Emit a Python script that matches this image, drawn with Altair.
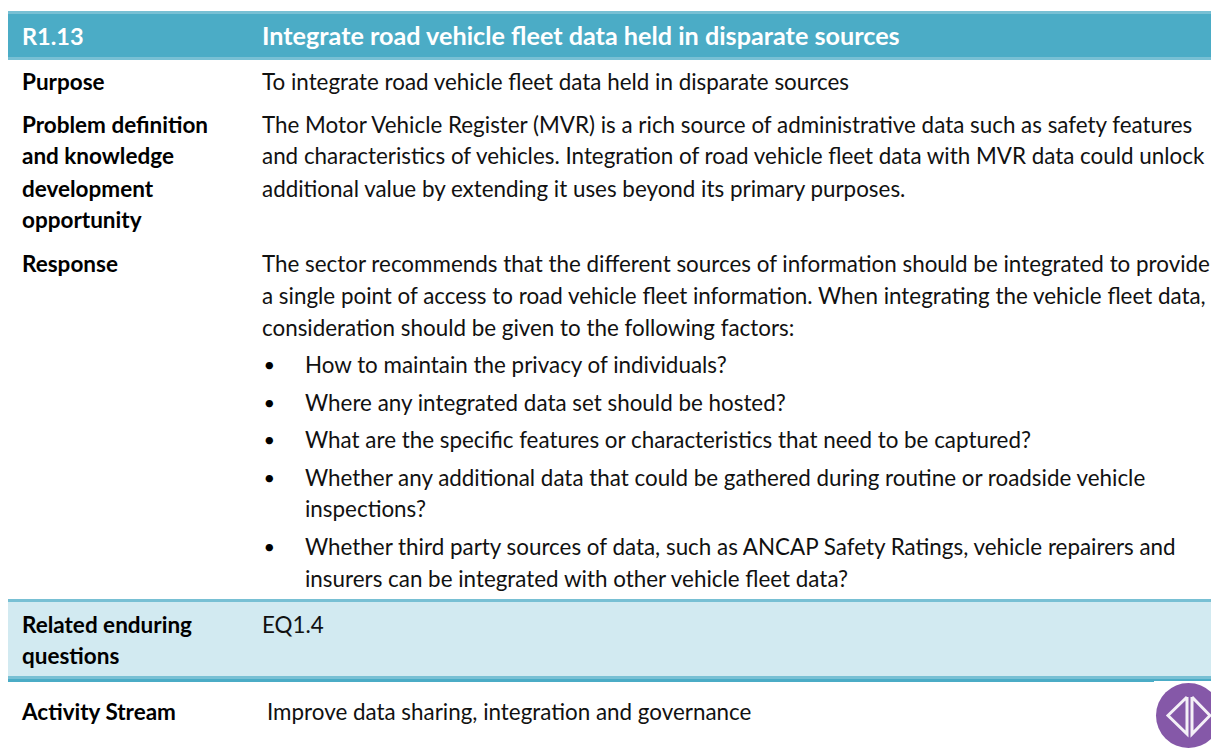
import altair as alt
import pandas as pd

FONT = "Lato"
SIZE = 22.4
LABEL_SIZE = 22.5
HEAD = 25.2
CODE = 23.5
BULLET = 20
INK = "#111111"
RIGHT = 1211

# table bands: left, top, right, bottom, colour
bands = pd.DataFrame([
    (8, 11, RIGHT, 14, "#78c0d4"),
    (8, 14, RIGHT, 57, "#4bacc6"),
    (8, 57, RIGHT, 60, "#78c0d4"),
    (8, 599, RIGHT, 602, "#78c0d4"),
    (8, 602, RIGHT, 676, "#d2eaf1"),
    (8, 676, RIGHT, 679, "#78c0d4"),
    (8, 679, RIGHT, 682, "#4bacc6"),
    (1154, 681, RIGHT, 749, "#ffffff"),
], columns=["x", "y", "x2", "y2", "c"])

code = pd.DataFrame([("R1.13", 22, 45)], columns=["t", "x", "y"])
title = pd.DataFrame([
    ("Integrate road vehicle fleet data held in disparate sources", 262, 45),
], columns=["t", "x", "y"])

labels = pd.DataFrame([
    ("Purpose", 22, 90),
    ("Problem definition", 22, 133),
    ("and knowledge", 22, 164),
    ("development", 22, 197),
    ("opportunity", 22, 228),
    ("Response", 22, 272),
    ("Related enduring", 22, 633),
    ("questions", 22, 664),
    ("Activity Stream", 22, 720),
], columns=["t", "x", "y"])

body = pd.DataFrame([
    ("To integrate road vehicle fleet data held in disparate sources", 262, 90),
    ("The Motor Vehicle Register (MVR) is a rich source of administrative data such as safety features", 262, 133),
    ("and characteristics of vehicles. Integration of road vehicle fleet data with MVR data could unlock", 262, 164),
    ("additional value by extending it uses beyond its primary purposes.", 262, 197),
    ("The sector recommends that the different sources of information should be integrated to provide", 262, 272),
    ("a single point of access to road vehicle fleet information. When integrating the vehicle fleet data,", 262, 304),
    ("consideration should be given to the following factors:", 262, 336),
    ("How to maintain the privacy of individuals?", 305, 373),
    ("Where any integrated data set should be hosted?", 305, 411),
    ("What are the specific features or characteristics that need to be captured?", 305, 448),
    ("Whether any additional data that could be gathered during routine or roadside vehicle", 305, 486),
    ("inspections?", 305, 517),
    ("Whether third party sources of data, such as ANCAP Safety Ratings, vehicle repairers and", 305, 555),
    ("insurers can be integrated with other vehicle fleet data?", 305, 587),
    ("EQ1.4", 262, 633),
    ("Improve data sharing, integration and governance", 267, 720),
], columns=["t", "x", "y"])

bullets = pd.DataFrame([
    ("•", 263.5, 372), ("•", 263.5, 410), ("•", 263.5, 447), ("•", 263.5, 485), ("•", 263.5, 554),
], columns=["t", "x", "y"])

badge = pd.DataFrame([{"x": 1188.5, "y": 715.5}])
arrows = pd.DataFrame([
    ("l", 0, 1187, 697), ("l", 1, 1168, 715.5), ("l", 2, 1187, 734), ("l", 3, 1187, 697),
    ("r", 0, 1192, 697), ("r", 1, 1210, 715.5), ("r", 2, 1192, 734), ("r", 3, 1192, 697),
], columns=["k", "o", "x", "y"])

X = alt.X("x:Q", scale=alt.Scale(domain=[8, RIGHT], range=[0, RIGHT - 8], nice=False, zero=False), axis=None)
Y = alt.Y("y:Q", scale=alt.Scale(domain=[8, 749], range=[0, 741], nice=False, zero=False), axis=None)

rects = alt.Chart(bands).mark_rect().encode(
    x=X, x2="x2:Q", y=Y, y2="y2:Q", color=alt.Color("c:N", scale=None))


def text(df, color, bold, size):
    return alt.Chart(df).mark_text(
        font=FONT, fontSize=size, fontWeight="bold" if bold else "normal",
        align="left", baseline="alphabetic", color=color,
    ).encode(x=X, y=Y, text="t:N")


circle = alt.Chart(badge).mark_point(
    shape="circle", filled=True, size=4225, color="#8558a8", opacity=1
).encode(x=X, y=Y)

tri = alt.Chart(arrows).mark_line(color="#f4f0f7", strokeWidth=3, strokeJoin="miter").encode(
    x=X, y=Y, detail="k:N", order="o:Q")

chart = alt.layer(
    rects,
    text(code, "#ffffff", True, CODE),
    text(title, "#ffffff", True, HEAD),
    text(labels, "#000000", True, LABEL_SIZE),
    text(body, INK, False, SIZE),
    text(bullets, "#000000", False, BULLET),
    circle, tri,
).properties(
    width=RIGHT - 8, height=741, padding=0, autosize=alt.AutoSizeParams(type="none"),
    background="#ffffff",
).configure_view(stroke=None)

chart.save("out.html", embed_options={"renderer": "svg", "actions": False})
